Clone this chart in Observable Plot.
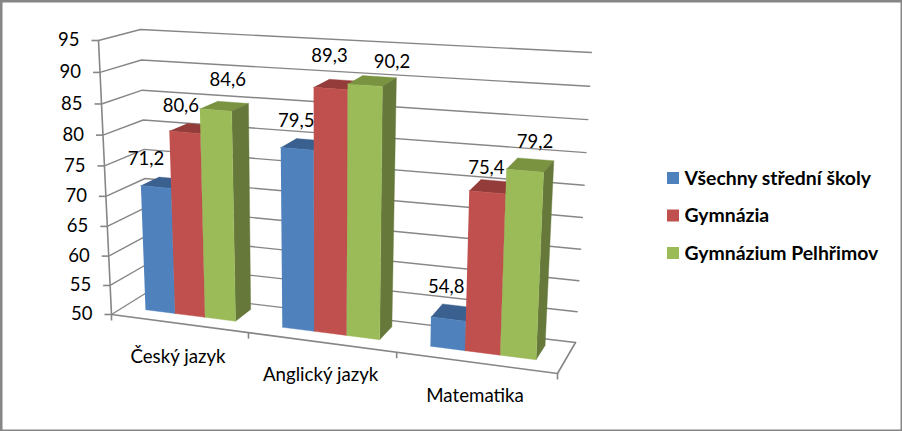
<!DOCTYPE html>
<html><head><meta charset="utf-8">
<script src="https://cdn.jsdelivr.net/npm/d3@7"></script>
<script src="https://cdn.jsdelivr.net/npm/@observablehq/plot@0.6"></script>
<style>html,body{margin:0;padding:0;background:#fff}svg{display:block}</style>
</head><body><div id="chart"></div>
<script>
const categories = ["Český jazyk", "Anglický jazyk", "Matematika"];
const seriesNames = ["Všechny střední školy", "Gymnázia", "Gymnázium Pelhřimov"];
const valuesAll = [71.2, 79.5, 54.8];
const valuesGym = [80.6, 89.3, 75.4];
const valuesPelhrimov = [84.6, 90.2, 79.2];
const valueTicks = [50, 55, 60, 65, 70, 75, 80, 85, 90, 95];

// styling
const frontColors = ["#4F81BD", "#C0504D", "#9BBB59"];
const topColors = ["#3A6090", "#943C3A", "#799341"];
const sideColors = ["#385D8A", "#8C3A38", "#66783A"];
const gray = "#868686";
const font = "Lato";

// layout of the tilted box (perspective view of the chart's floor and walls)
const floorBox = {fl: [111, 314], fr: [557, 373], bl: [148, 291], br: [575, 342]};
const roofBox = {fl: [98, 40], fr: [569, 74], bl: [140, 29], br: [591, 52]};
const spanPersp = 1.128, heightPersp = 1.055;
const depthFront = 0.33, depthBack = 0.8;
const labelNudge = [[[-10,-28],[-1,-28],[-2,-32]],[[-4,-26],[-1,-33],[-1,-24]],[[12,-30],[27,-23],[10,-29]]];

const lerp = (a, b, t) => [a[0] + (b[0] - a[0]) * t, a[1] + (b[1] - a[1]) * t];
const bilerp = (box, u, d) => lerp(lerp(box.fl, box.fr, u), lerp(box.bl, box.br, u), d);
const span = (q) => q / (q + spanPersp * (1 - q));            // category position → perspective
const rise = (v) => { const q = (v - 50) / 45; return q / (q + heightPersp * (1 - q)); };
// project(category position 0..3, value, depth 0..1) → page position
function project(s, v, d) {
  const u = span(s / categories.length);
  return lerp(bilerp(floorBox, u, d), bilerp(roofBox, u, d), rise(v));
}
const px = (p) => p[0], py = (p) => p[1];

const vmin = valueTicks[0];
const marks = [];

// walls
for (const v of valueTicks) {
  marks.push(Plot.line([project(0, v, 0), project(0, v, 1), project(3, v, 1)],
    {x: px, y: py, stroke: gray, strokeWidth: 1.4}));
  const a = project(0, v, 0);
  marks.push(Plot.link([a], {x1: (p) => p[0] - 7, y1: py, x2: px, y2: py, stroke: gray, strokeWidth: 1.6}));
}
// value axis, floor edges, category ticks
marks.push(Plot.line([project(0, 95, 0), project(0, vmin, 0)], {x: px, y: py, stroke: gray, strokeWidth: 1.6}));
marks.push(Plot.line([project(0, vmin, 0), project(3, vmin, 0), project(3, vmin, 1)], {x: px, y: py, stroke: gray, strokeWidth: 1.6}));
marks.push(Plot.link(d3.range(categories.length + 1).map((s) => project(s, vmin, 0)),
  {x1: px, y1: py, x2: px, y2: (p) => p[1] + 6, stroke: gray, strokeWidth: 1.6}));

// bars, left to right so each one covers the previous side
const groupMargin = 1 / 6, barWidth = 2 / 9;
const seriesValues = [valuesAll, valuesGym, valuesPelhrimov];
const anchors = [];
categories.forEach((c, ci) => {
  seriesValues.forEach((vals, si) => {
    const v = vals[ci];
    const s0 = ci + groupMargin + si * barWidth, s1 = s0 + barWidth;
    const face = (pts, fill) => marks.push(Plot.line(pts, {x: px, y: py, fill, stroke: fill, strokeWidth: 0.4}));
    face([project(s0, v, depthFront), project(s1, v, depthFront), project(s1, v, depthBack), project(s0, v, depthBack)], topColors[si]);
    face([project(s1, vmin, depthFront), project(s1, vmin, depthBack), project(s1, v, depthBack), project(s1, v, depthFront)], sideColors[si]);
    face([project(s0, vmin, depthFront), project(s1, vmin, depthFront), project(s1, v, depthFront), project(s0, v, depthFront)], frontColors[si]);
    const p = project((s0 + s1) / 2, v, depthFront);
    anchors.push({x: p[0] + labelNudge[si][ci][0], y: p[1] + labelNudge[si][ci][1], text: v.toFixed(1).replace(".", ",")});
  });
});

// tick labels
marks.push(Plot.text(valueTicks, {
  x: (v) => project(0, v, 0)[0] - 19, y: (v) => project(0, v, 0)[1], text: (v) => String(v),
  textAnchor: "end", fontSize: 18.5, fontFamily: font, fill: "#000"
}));
marks.push(Plot.text(categories, {
  x: (c, i) => (project(i, vmin, 0)[0] + project(i + 1, vmin, 0)[0]) / 2 - 2,
  y: (c, i) => (project(i, vmin, 0)[1] + project(i + 1, vmin, 0)[1]) / 2 + 33,
  text: (c) => c, fontSize: 18.7, fontFamily: font, fill: "#000"
}));
// data labels
marks.push(Plot.text(anchors, {x: "x", y: "y", text: "text", fontSize: 18.5, fontFamily: font, fill: "#000"}));

// legend
const legendX = 667, legendY = 178, legendStep = 37.5, swatch = 12;
marks.push(Plot.rect(seriesNames, {
  x1: legendX, x2: legendX + swatch,
  y1: (n, i) => legendY + i * legendStep - swatch / 2,
  y2: (n, i) => legendY + i * legendStep + swatch / 2,
  fill: (n, i) => frontColors[i]
}));
marks.push(Plot.text(seriesNames, {
  x: legendX + swatch + 5, y: (n, i) => legendY + i * legendStep, text: (n) => n,
  textAnchor: "start", fontSize: 19.4, fontWeight: "bold", fontFamily: font, fill: "#000"
}));
marks.push(Plot.frame({stroke: gray, strokeWidth: 4}));

const chart = Plot.plot({
  width: 902, height: 431, margin: 0,
  x: {domain: [0, 902], range: [0, 902], axis: null},
  y: {domain: [0, 431], range: [0, 431], axis: null},
  style: {background: "#fff"},
  marks
});
document.getElementById("chart").append(chart);
</script></body></html>
